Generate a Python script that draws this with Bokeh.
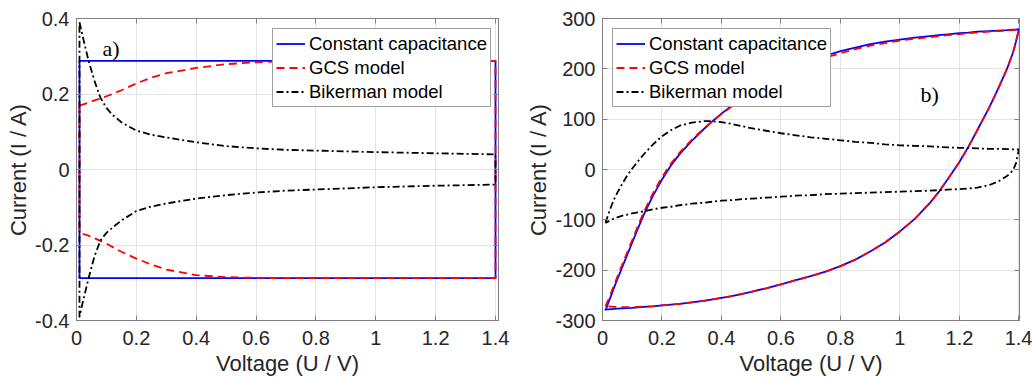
from bokeh.plotting import figure
from bokeh.layouts import row
from bokeh.models import (Range1d, FixedTicker, LinearAxis, Legend, LegendItem, Label,
                          CustomJSTickFormatter)
from bokeh.embed import file_html
from bokeh.resources import INLINE

# ---------------- data: panel a ----------------
x_a = [0.01, 0.02, 0.04, 0.06, 0.08, 0.10, 0.12, 0.15, 0.20, 0.25, 0.30,
       0.40, 0.50, 0.60, 0.70, 0.80, 1.00, 1.20, 1.40]
cc_a_fwd = [0.288, 0.288, 0.288, 0.288, 0.288, 0.288, 0.288, 0.288, 0.288, 0.288,
            0.288, 0.288, 0.288, 0.288, 0.288, 0.288, 0.288, 0.288, 0.288]
cc_a_rev = [-0.288, -0.288, -0.288, -0.288, -0.288, -0.288, -0.288, -0.288, -0.288, -0.288,
            -0.288, -0.288, -0.288, -0.288, -0.288, -0.288, -0.288, -0.288, -0.288]
gcs_a_fwd = [0.170, 0.172, 0.177, 0.183, 0.188, 0.194, 0.200, 0.210, 0.228, 0.243,
             0.255, 0.269, 0.279, 0.284, 0.287, 0.288, 0.288, 0.288, 0.288]
gcs_a_rev = [-0.167, -0.170, -0.175, -0.182, -0.189, -0.196, -0.205, -0.218, -0.236, -0.252,
             -0.265, -0.280, -0.285, -0.287, -0.288, -0.288, -0.288, -0.288, -0.288]
bik_a_fwd = [0.390, 0.355, 0.289, 0.235, 0.190, 0.163, 0.145, 0.125, 0.103, 0.092,
             0.085, 0.072, 0.062, 0.056, 0.052, 0.050, 0.046, 0.043, 0.040]
bik_a_rev = [-0.390, -0.355, -0.289, -0.230, -0.188, -0.168, -0.154, -0.135, -0.110, -0.098,
             -0.090, -0.077, -0.068, -0.061, -0.056, -0.053, -0.047, -0.043, -0.040]

# ---------------- data: panel b ----------------
x_b = [0.01, 0.02, 0.03, 0.04, 0.05, 0.065, 0.08, 0.10, 0.12, 0.14, 0.17, 0.20, 0.23,
       0.26, 0.30, 0.34, 0.37, 0.40, 0.43, 0.47, 0.50, 0.55, 0.60, 0.65, 0.70, 0.75,
       0.80, 0.85, 0.90, 0.95, 1.00, 1.05, 1.10, 1.13, 1.16, 1.20, 1.23, 1.26, 1.30,
       1.33, 1.36, 1.38, 1.39, 1.40]
cc_b_fwd = [-280, -264, -249, -233, -218, -196, -174, -145, -116, -88, -52, -20, 8,
            31, 57, 80, 96, 111, 125, 143, 155, 173, 189, 203, 215, 226,
            235, 242, 249, 254, 258, 262, 265, 267, 268.5, 271, 272, 274, 275,
            276, 277, 278, 278, 279]
cc_b_rev = [-278, -278, -277.5, -277, -276.5, -276, -275.5, -275, -274, -273, -272, -270, -268.5,
            -267, -264, -261, -258, -255, -252, -247, -243, -236, -228, -220, -212, -203,
            -192, -179, -163, -145, -123, -98, -67, -45, -20, 15, 45, 78, 123,
            160, 200, 232, 254, 279]
gcs_b_fwd = [-272, -258, -243, -228, -213, -191, -169, -140, -111, -83, -47, -15, 12,
             34, 59, 81, 96, 110, 123, 140, 152, 170, 186, 200, 212, 222,
             231, 239, 246, 251, 256, 260, 263, 265, 267, 269, 271, 272, 274,
             275, 276, 277, 277.5, 278]
gcs_b_rev = [-272, -272, -272.5, -273, -273, -273.5, -273.5, -273.5, -273, -272.5, -271.5, -270, -268.5,
             -267, -264, -261, -258, -255, -252, -247, -243, -236, -228, -220, -212, -203,
             -192, -179, -163, -145, -123, -98, -67, -45, -20, 15, 45, 78, 123,
             160, 200, 232, 253, 278]
bik_b_fwd = [-106, -88, -72, -58, -46, -30, -15, 2, 17, 31, 50, 66, 78,
             87, 93, 96, 96, 94, 91, 86, 82, 77, 72, 68, 64, 61,
             58, 55, 53, 50, 48, 47, 46, 45, 44, 43, 43, 42, 41,
             41, 40.5, 40, 40, 40]
bik_b_rev = [-106, -103, -100, -97, -95, -92, -90, -87, -85, -83, -79, -76, -74,
             -71, -68, -66, -64, -62, -61, -59, -58, -56, -54, -52, -51, -49,
             -48, -47, -46, -45, -44, -43, -42, -41, -40, -39, -38, -36, -31,
             -24, -13, -2, 12, 40]

# ---------------- ticks and texts ----------------
x_ticks = [0, 0.2, 0.4, 0.6, 0.8, 1.0, 1.2, 1.4]
x_tick_labels = ["0", "0.2", "0.4", "0.6", "0.8", "1", "1.2", "1.4"]
ya_ticks = [-0.4, -0.2, 0, 0.2, 0.4]
ya_tick_labels = ["-0.4", "-0.2", "0", "0.2", "0.4"]
yb_ticks = [-300, -200, -100, 0, 100, 200, 300]
yb_tick_labels = ["-300", "-200", "-100", "0", "100", "200", "300"]

series_names = ["Constant capacitance", "GCS model", "Bikerman model"]
panel_tags = ["a)", "b)"]
x_title = "Voltage (U / V)"
y_title = "Current (I / A)"

AX = "#7f7f7f"
TXT = "#262626"
SANS = "Liberation Sans"


def loop(x, fwd, rev):
    xs = list(x) + list(x)[::-1] + [x[0]]
    ys = list(fwd) + list(rev)[::-1] + [fwd[0]]
    return xs, ys


def make_panel(xmax, ylo, yhi, yticks, ylabels, fw, fh, bl, br, bt, bb,
               data, legend_px, tag_px):
    p = figure(frame_width=fw, frame_height=fh,
               x_range=Range1d(0, xmax), y_range=Range1d(ylo, yhi),
               output_backend="svg", toolbar_location=None,
               min_border_left=bl, min_border_right=br,
               min_border_top=bt, min_border_bottom=bb,
               background_fill_color="white", border_fill_color="white")
    p.outline_line_color = AX
    p.outline_line_width = 1

    xt = FixedTicker(ticks=x_ticks)
    yt = FixedTicker(ticks=yticks)
    p.xaxis.ticker = xt
    p.yaxis.ticker = yt
    p.xaxis.major_label_overrides = {t: l for t, l in zip(x_ticks, x_tick_labels)}
    p.yaxis.major_label_overrides = {t: l for t, l in zip(yticks, ylabels)}
    for ax in (p.xaxis[0], p.yaxis[0]):
        ax.axis_line_color = AX
        ax.major_tick_line_color = AX
        ax.major_tick_in = 5
        ax.major_tick_out = 0
        ax.minor_tick_line_color = None
        ax.major_label_text_font = SANS
        ax.major_label_text_font_size = "20px"
        ax.major_label_text_color = TXT
        ax.axis_label_text_font = SANS
        ax.axis_label_text_font_size = "22px"
        ax.axis_label_text_font_style = "normal"
        ax.axis_label_text_color = TXT
    p.xaxis.major_label_standoff = 10
    p.yaxis.major_label_standoff = 7
    p.xaxis.axis_label = x_title
    p.yaxis.axis_label = y_title
    p.xaxis.axis_label_standoff = 3
    p.yaxis.axis_label_standoff = 1

    blank = CustomJSTickFormatter(code="return ''")
    top = LinearAxis(ticker=xt, formatter=blank, major_label_text_font_size="10px",
                     major_label_standoff=0, major_tick_in=5, major_tick_out=0,
                     minor_tick_line_color=None, axis_line_color=AX, major_tick_line_color=AX)
    right = LinearAxis(ticker=yt, formatter=blank, major_label_text_font_size="10px",
                       major_label_standoff=0, major_tick_in=5, major_tick_out=0,
                       minor_tick_line_color=None, axis_line_color=AX, major_tick_line_color=AX)
    p.add_layout(top, "above")
    p.add_layout(right, "right")

    p.xgrid.ticker = xt
    p.ygrid.ticker = yt
    p.grid.grid_line_color = "#e3e3e3"
    p.grid.grid_line_width = 1

    x, cf, cr, gf, gr, bf, brv = data
    xs, ys = loop(x, cf, cr)
    r1 = p.line(xs, ys, line_color="#0000ff", line_width=1.8, line_join="round")
    xs, ys = loop(x, gf, gr)
    r2 = p.line(xs, ys, line_color="#ff0000", line_width=1.8, line_dash="8 5", line_join="round")
    xs, ys = loop(x, bf, brv)
    r3 = p.line(xs, ys, line_color="black", line_width=1.8, line_dash="7 3 2 3", line_join="round")

    def dx(px):
        return (px - bl) / fw * xmax

    def dy(py):
        return yhi - (py - bt) / fh * (yhi - ylo)

    lg = Legend(items=[LegendItem(label=series_names[0], renderers=[r1]),
                       LegendItem(label=series_names[1], renderers=[r2]),
                       LegendItem(label=series_names[2], renderers=[r3])],
                location=(legend_px[0] - bl, bt + fh - legend_px[1]),
                border_line_color="#3f3f3f", border_line_width=1,
                background_fill_color="white", background_fill_alpha=1,
                label_text_font=SANS, label_text_font_size="18.5px",
                label_text_color="black",
                glyph_width=29, glyph_height=23, label_height=23,
                label_standoff=4, padding=3, spacing=1, margin=0)
    p.add_layout(lg)

    tag, tx, ty = tag_px
    p.add_layout(Label(x=dx(tx), y=dy(ty), text=tag, text_font="Liberation Serif",
                       text_font_size="22px", text_color="black",
                       text_baseline="alphabetic", text_align="left"))
    return p


pa = make_panel(1.41, -0.4, 0.4, ya_ticks, ya_tick_labels, 422, 302, 76, 18, 18, 58,
                (x_a, cc_a_fwd, cc_a_rev, gcs_a_fwd, gcs_a_rev, bik_a_fwd, bik_a_rev),
                legend_px=(272, 107), tag_px=(panel_tags[0], 102, 48))
pb = make_panel(1.402, -300, 300, yb_ticks, yb_tick_labels, 417, 302, 86, 13, 18, 58,
                (x_b, cc_b_fwd, cc_b_rev, gcs_b_fwd, gcs_b_rev, bik_b_fwd, bik_b_rev),
                legend_px=(612 - 516, 107), tag_px=(panel_tags[1], 920 - 516, 94))

layout = row(pa, pb)
open("out.html", "w").write(file_html(layout, INLINE))
